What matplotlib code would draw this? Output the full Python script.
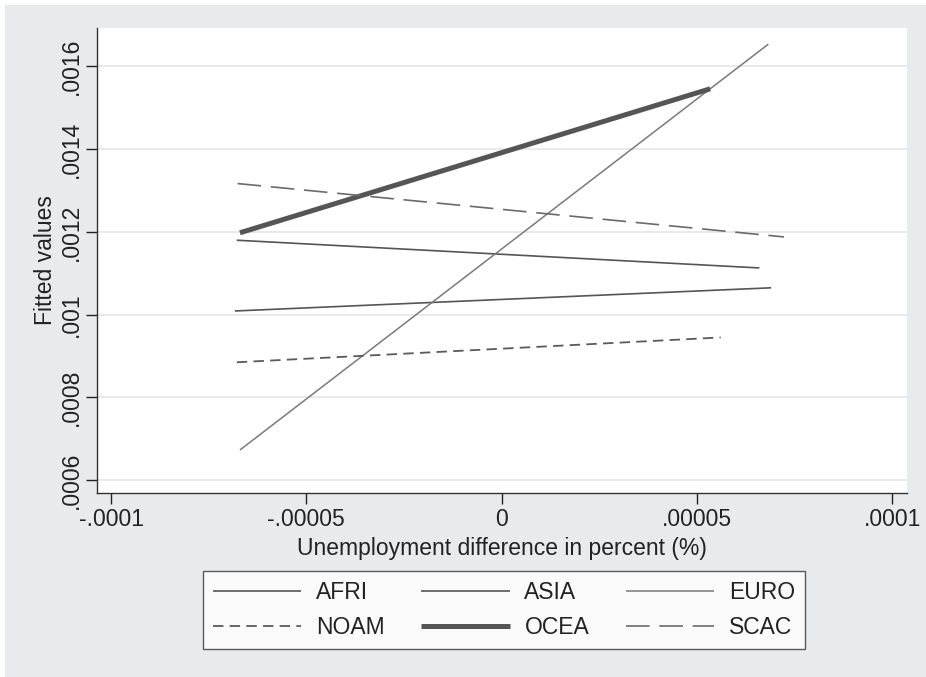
import numpy as np
import matplotlib.pyplot as plt
from matplotlib.patches import Rectangle

plt.rcParams['font.family'] = ['Liberation Sans', 'DejaVu Sans']
plt.rcParams['lines.scale_dashes'] = False

# fitted line end points
regions = ['AFRI', 'ASIA', 'EURO', 'NOAM', 'OCEA', 'SCAC']
x_start = [-67.8e-6, -68.3e-6, -67.0e-6, -67.8e-6, -67.0e-6, -67.6e-6]
x_end = [66.0e-6, 69.0e-6, 68.3e-6, 56.1e-6, 53.4e-6, 72.3e-6]
y_start = [0.00118, 0.001009, 0.000673, 0.000885, 0.001198, 0.001317]
y_end = [0.001113, 0.001065, 0.001654, 0.000945, 0.001546, 0.001188]

xticks = [-0.0001, -0.00005, 0, 0.00005, 0.0001]
xticklabels = ['-.0001', '-.00005', '0', '.00005', '.0001']
yticks = [0.0006, 0.0008, 0.001, 0.0012, 0.0014, 0.0016]
yticklabels = ['.0006', '.0008', '.001', '.0012', '.0014', '.0016']

styles = {
    'AFRI': dict(color='#555555', lw=1.2, ls='-'),
    'ASIA': dict(color='#555555', lw=1.2, ls='-'),
    'EURO': dict(color='#7a7a7a', lw=1.1, ls='-'),
    'NOAM': dict(color='#5a5a5a', lw=1.3, ls=(0, (7.5, 4.5))),
    'OCEA': dict(color='#555555', lw=3.6, ls='-'),
    'SCAC': dict(color='#6a6a6a', lw=1.2, ls=(0, (17, 7))),
}
fs = 16.5

fig = plt.figure(figsize=(9.26, 6.77), dpi=100)
fig.patch.set_facecolor('white')
fig.add_artist(Rectangle((5 / 926, 0), 1, 1 - 5 / 677, transform=fig.transFigure,
                         facecolor='#e9eaec', edgecolor='none', zorder=-10))

ax = fig.add_axes([97 / 926, 1 - 493 / 677, 810 / 926, 465 / 677])
ax.set_facecolor('white')

lines = {}
for i, r in enumerate(regions):
    lines[r], = ax.plot([x_start[i], x_end[i]], [y_start[i], y_end[i]], label=r,
                        solid_capstyle='butt', dash_capstyle='butt', **styles[r])

ax.set_xlim(-103.6e-6, 103.8e-6)
ax.set_ylim(0.000569, 0.001693)
ax.set_xticks(xticks)
ax.set_xticklabels(xticklabels)
ax.set_yticks(yticks)
ax.set_yticklabels(yticklabels, rotation=90, va='center')
ax.tick_params(labelsize=fs, colors='#222222', length=8, width=1, direction='out')
ax.tick_params(axis='y', pad=2)
ax.tick_params(axis='x', pad=3)
ax.grid(axis='y', color='#e6e7e9', lw=1.3)
ax.set_axisbelow(True)
for s in ['top', 'right']:
    ax.spines[s].set_visible(False)
for s in ['left', 'bottom']:
    ax.spines[s].set_color('#333333')
    ax.spines[s].set_linewidth(1)

ax.set_xlabel('Unemployment difference in percent (%)', fontsize=fs, color='#222222', labelpad=4)
ax.set_ylabel('Fitted values', fontsize=fs, color='#222222', labelpad=2)

# matplotlib fills legend columns first, so reorder to get row-wise layout
order = ['AFRI', 'NOAM', 'ASIA', 'OCEA', 'EURO', 'SCAC']
leg = fig.legend([lines[r] for r in order], order, loc='center',
                 bbox_to_anchor=(504 / 926, 1 - 610 / 677), ncol=3,
                 fontsize=fs, frameon=True, fancybox=False, handlelength=3.85,
                 handletextpad=0.65, columnspacing=1.6, labelspacing=0.5,
                 borderpad=0.45, borderaxespad=0)
leg.get_frame().set_edgecolor('#333333')
leg.get_frame().set_linewidth(1)
for t in leg.get_texts():
    t.set_color('#222222')

fig.savefig('out.png', dpi=100)
